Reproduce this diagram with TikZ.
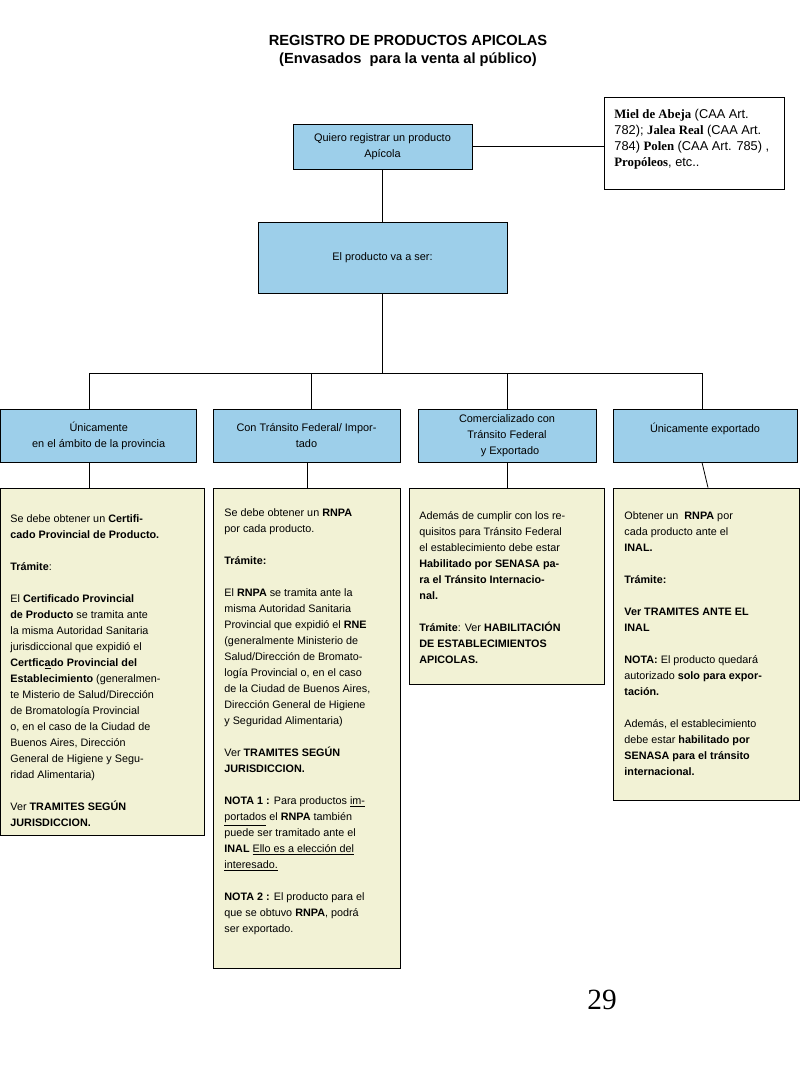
\documentclass[tikz,border=0pt]{standalone}
\usepackage{fontspec}
\setmainfont{Liberation Sans}
\newfontfamily\serifface{Liberation Serif}
\definecolor{boxblue}{HTML}{9DCFEA}
\definecolor{boxcream}{HTML}{F2F2D5}
\begin{document}
\begin{tikzpicture}[x=0.75pt,y=-0.75pt,
  line width=0.6pt,
  bluebox/.style={draw=black, fill=boxblue, inner sep=0pt, align=center,
    font=\fontsize{8.2}{12}\selectfont},
  creambox/.style={draw=black, fill=boxcream, inner sep=0pt},
  whitebox/.style={draw=black, fill=white, inner sep=0pt},
  bodytext/.style={anchor=north west, inner sep=0pt, align=left,
    font=\fontsize{8.1}{12}\selectfont},
  conn/.style={draw=black, line width=0.6pt}]
\useasboundingbox (0,0) rectangle (800,1066);

% title
\node[font=\bfseries\fontsize{11}{13.5}\selectfont, align=center] (title) at (408,51)
  {REGISTRO DE PRODUCTOS APICOLAS\\(Envasados\ \ para la venta al público)};

% top level
\node[bluebox, minimum width=134.25pt, minimum height=33.75pt] (q) at (382.5,146.5)
  {Quiero registrar un producto\\Apícola};
\node[whitebox, minimum width=135pt, minimum height=69pt] (r) at (694,143) {};
\node[bodytext, font=\fontsize{9.6}{12}\selectfont] (rt) at (614,108.5)
  {{\serifface\bfseries Miel de Abeja} (CAA Art.\\
   782); {\serifface\bfseries Jalea Real} (CAA Art.\\
   784) {\serifface\bfseries Polen} (CAA Art. 785) ,\\
   {\serifface\bfseries Propóleos}, etc..};
\node[bluebox, minimum width=186.75pt, minimum height=53.25pt] (e) at (382.5,257.5)
  {El producto va a ser:};

% second level
\node[bluebox, minimum width=147pt, minimum height=39.75pt] (la) at (98.7,435.5)
  {Únicamente\\en el ámbito de la provincia};
\node[bluebox, minimum width=140.25pt, minimum height=39.75pt] (lb) at (306.5,435.5)
  {Con Tránsito Federal/ Impor-\\tado};
\node[bluebox, minimum width=133.5pt, minimum height=39.75pt] (lc) at (507,435.5)
  {Comercializado con\\Tránsito Federal\\\ \ y Exportado};
\node[bluebox, minimum width=138pt, minimum height=39.75pt] (ld) at (705,435.5)
  {Únicamente exportado\\\mbox{}};

% detail boxes
\node[creambox, minimum width=153pt, minimum height=260.25pt] (da) at (102.7,661.5) {};
\node[creambox, minimum width=140.25pt, minimum height=360pt] (db) at (306.5,728) {};
\node[creambox, minimum width=146.25pt, minimum height=147pt] (dc) at (506.5,586) {};
\node[creambox, minimum width=139.5pt, minimum height=234pt] (dd) at (706,644) {};

\node[bodytext] (ta) at (10,514.5)
  {Se debe obtener un \textbf{Certifi-}\\
   \textbf{cado Provincial de Producto.}\\[12pt]
   \textbf{Trámite}:\\[12pt]
   El \textbf{Certificado Provincial}\\
   \textbf{de Producto} se tramita ante\\
   la misma Autoridad Sanitaria\\
   jurisdiccional que expidió el\\
   \textbf{Certfic\underline{a}do Provincial del}\\
   \textbf{Establecimiento} (generalmen-\\
   te Misterio de Salud/Dirección\\
   de Bromatología Provincial\\
   o, en el caso de la Ciudad de\\
   Buenos Aires, Dirección\\
   General de Higiene y Segu-\\
   ridad Alimentaria)\\[12pt]
   Ver \textbf{TRAMITES SEGÚN}\\
   \textbf{JURISDICCION.}};

\node[bodytext] (tb) at (224,508.5)
  {Se debe obtener un \textbf{RNPA}\\
   por cada producto.\\[12pt]
   \textbf{Trámite:}\\[12pt]
   El \textbf{RNPA} se tramita ante la\\
   misma Autoridad Sanitaria\\
   Provincial que expidió el \textbf{RNE}\\
   (generalmente Ministerio de\\
   Salud/Dirección de Bromato-\\
   logía Provincial o, en el caso\\
   de la Ciudad de Buenos Aires,\\
   Dirección General de Higiene\\
   y Seguridad Alimentaria)\\[12pt]
   Ver \textbf{TRAMITES SEGÚN}\\
   \textbf{JURISDICCION.}\\[12pt]
   \textbf{NOTA 1 :} Para productos \underline{im-}\\
   \underline{portados} el \textbf{RNPA} también\\
   puede ser tramitado ante el\\
   \textbf{INAL} \underline{Ello es a elección del}\\
   \underline{interesado.}\\[12pt]
   \textbf{NOTA 2 :} El producto para el\\
   que se obtuvo \textbf{RNPA}, podrá\\
   ser exportado.};

\node[bodytext] (tc) at (419,511.5)
  {Además de cumplir con los re-\\
   quisitos para Tránsito Federal\\
   el establecimiento debe estar\\
   \textbf{Habilitado por SENASA pa-}\\
   \textbf{ra el Tránsito Internacio-}\\
   \textbf{nal.}\\[12pt]
   \textbf{Trámite}: Ver \textbf{HABILITACIÓN}\\
   \textbf{DE ESTABLECIMIENTOS}\\
   \textbf{APICOLAS.}};

\node[bodytext] (td) at (624,511.5)
  {Obtener un\ \ \textbf{RNPA} por\\
   cada producto ante el\\
   \textbf{INAL.}\\[12pt]
   \textbf{Trámite:}\\[12pt]
   \textbf{Ver TRAMITES ANTE EL}\\
   \textbf{INAL}\\[12pt]
   \textbf{NOTA:} El producto quedará\\
   autorizado \textbf{solo para expor-}\\
   \textbf{tación.}\\[12pt]
   Además, el establecimiento\\
   debe estar \textbf{habilitado por}\\
   \textbf{SENASA para el tránsito}\\
   \textbf{internacional.}};

% page number
\node[font=\serifface\fontsize{22}{24}\selectfont, inner sep=0pt] (pg) at (602,1000) {29};

% connectors
\coordinate (bus) at (382.5,373);
\coordinate (ba) at (89,373);
\coordinate (bb) at (311,373);
\coordinate (bc) at (507,373);
\coordinate (bd) at (702,373);
\coordinate (lbx) at (307,0);
\coordinate (ldx) at (702,0);
\coordinate (ddx) at (708,0);

\draw[conn] (q.east) -- (q.east -| r.west);
\draw[conn] (q.south) -- (e.north);
\draw[conn] (e.south) -- (bus);
\draw[conn] (ba) -- (bd);
\draw[conn] (ba) -- (ba |- la.north);
\draw[conn] (bb) -- (bb |- lb.north);
\draw[conn] (bc) -- (bc |- lc.north);
\draw[conn] (bd) -- (bd |- ld.north);
\draw[conn] (la.south -| ba) -- (da.north -| ba);
\draw[conn] (lb.south -| lbx) -- (db.north -| lbx);
\draw[conn] (lc.south) -- (dc.north -| lc.south);
\draw[conn] (ld.south -| ldx) -- (dd.north -| ddx);
\end{tikzpicture}
\end{document}
